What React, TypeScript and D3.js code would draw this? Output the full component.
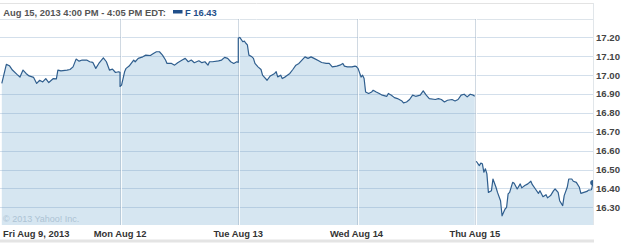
import React from "react";
import * as d3 from "d3";

const headerText = "Aug 15, 2013 4:00 PM - 4:05 PM EDT:";
const legendText = "F 16.43";
const copyright = "\u00A9 2013 Yahoo! Inc.";
const dayLabels = ["Fri Aug 9, 2013", "Mon Aug 12", "Tue Aug 13", "Wed Aug 14", "Thu Aug 15"];
const yTicks = [17.2, 17.1, 17.0, 16.9, 16.8, 16.7, 16.6, 16.5, 16.4, 16.3];
const minutesPerDay = 390;

// [minutes since 9:30 open, price]
const fri: [number, number][] = [
  [0, 16.956], [15, 17.057], [25, 17.05], [35, 17.027], [50, 17.004], [60, 16.99], [70, 17.027],
  [80, 17.009], [90, 16.996], [105, 16.988], [115, 16.956], [125, 16.973], [135, 16.964],
  [145, 16.982], [155, 16.961], [170, 16.982], [180, 16.98], [185, 17.027], [195, 17.023],
  [215, 17.027], [225, 17.03], [235, 17.044], [245, 17.085], [255, 17.074], [265, 17.08],
  [280, 17.08], [290, 17.071], [300, 17.068], [310, 17.036], [320, 17.062], [335, 17.092],
  [345, 17.071], [355, 17.027], [365, 17.032], [375, 17.014], [385, 17.018], [390, 17.015],
];
const mon: [number, number][] = [
  [0, 16.94], [5, 16.947], [15, 17.018], [20, 17.036], [30, 17.048], [45, 17.08], [50, 17.071],
  [60, 17.089], [75, 17.097], [85, 17.106], [100, 17.104], [110, 17.115], [120, 17.124],
  [130, 17.124], [140, 17.106], [150, 17.08], [155, 17.062], [170, 17.062], [180, 17.053],
  [190, 17.066], [205, 17.08], [215, 17.089], [225, 17.071], [235, 17.08], [245, 17.066],
  [260, 17.076], [270, 17.066], [280, 17.071], [290, 17.053], [295, 17.071], [305, 17.071],
  [325, 17.076], [335, 17.08], [345, 17.094], [355, 17.089], [365, 17.071], [375, 17.062],
  [385, 17.071], [390, 17.068],
];
const tue: [number, number][] = [
  [0, 17.195], [5, 17.2], [15, 17.177], [20, 17.18], [25, 17.169], [30, 17.16], [35, 17.106],
  [45, 17.097], [50, 17.089], [55, 17.062], [65, 17.044], [75, 17.03], [80, 17.0], [85, 16.991],
  [95, 16.973], [105, 16.995], [110, 17.0], [120, 17.009], [125, 17.018], [130, 16.991],
  [140, 17.0], [145, 16.982], [155, 16.991], [170, 17.009], [180, 17.03], [190, 17.053],
  [200, 17.062], [210, 17.08], [220, 17.097], [230, 17.089], [240, 17.097], [250, 17.089],
  [265, 17.076], [275, 17.067], [290, 17.062], [300, 17.062], [310, 17.044], [325, 17.048],
  [335, 17.053], [345, 17.062], [350, 17.048], [360, 17.044], [375, 17.044], [385, 17.048],
  [390, 17.045],
];
const wed: [number, number][] = [
  [0, 17.044], [5, 17.036], [15, 16.99], [20, 17.0], [25, 16.982], [30, 16.911], [40, 16.903],
  [50, 16.911], [55, 16.92], [65, 16.911], [75, 16.903], [85, 16.894], [100, 16.888],
  [105, 16.903], [115, 16.894], [125, 16.881], [135, 16.876], [150, 16.863], [155, 16.853],
  [165, 16.858], [175, 16.871], [185, 16.894], [195, 16.888], [210, 16.894], [220, 16.917],
  [230, 16.894], [240, 16.876], [260, 16.871], [270, 16.876], [280, 16.871], [290, 16.858],
  [300, 16.867], [315, 16.871], [325, 16.863], [335, 16.871], [345, 16.894], [355, 16.899],
  [365, 16.885], [375, 16.899], [385, 16.894], [390, 16.888],
];
const thu: [number, number][] = [
  [5, 16.544], [15, 16.521], [20, 16.534], [25, 16.531], [30, 16.486], [35, 16.504], [40, 16.477],
  [45, 16.379], [55, 16.388], [60, 16.45], [70, 16.406], [75, 16.379], [85, 16.335], [90, 16.255],
  [100, 16.291], [105, 16.3], [110, 16.371], [115, 16.379], [125, 16.432], [130, 16.427],
  [140, 16.397], [150, 16.424], [155, 16.403], [165, 16.415], [175, 16.424], [185, 16.438],
  [190, 16.42], [200, 16.397], [210, 16.374], [215, 16.388], [225, 16.356], [235, 16.367],
  [240, 16.35], [250, 16.362], [260, 16.388], [265, 16.397], [275, 16.379], [280, 16.335],
  [290, 16.309], [295, 16.362], [305, 16.406], [310, 16.45], [320, 16.45], [325, 16.438],
  [335, 16.432], [345, 16.406], [350, 16.374], [360, 16.379], [370, 16.384], [375, 16.391],
  [385, 16.393], [390, 16.43],
];
const days = [fri, mon, tue, wed, thu];

const W = 625;
const H = 243;
const plotLeft = 1.8;
const plotRight = 593;
const plotTop = 19;
const plotBottom = 225;

const FONT = "'Liberation Sans', Arial, sans-serif";
const LINE = "#2f5e8e";
const FILL = "#d6e6f1";

export default function App() {
  const x = d3.scaleLinear().domain([0, minutesPerDay * days.length]).range([plotLeft, plotRight]);
  const y = d3.scaleLinear().domain([16.3, 17.2]).range([207.3, 37.4]);

  type P = { t: number; v: number };
  const toPts = (d: [number, number][], i: number): P[] => d.map(([m, v]) => ({ t: i * minutesPerDay + m, v }));
  // Days Fri–Wed are one continuous trace; Thu starts after a gap
  const seg1: P[] = ([] as P[]).concat(...days.slice(0, 4).map((d, i) => toPts(d, i)));
  const seg2: P[] = toPts(thu, 4);
  const segments = [seg1, seg2];

  const line = d3.line<P>().x((p) => x(p.t)).y((p) => y(p.v));
  const area = d3.area<P>().x((p) => x(p.t)).y0(plotBottom).y1((p) => y(p.v));

  const last = seg2[seg2.length - 1];
  const dayStarts = days.map((_, i) => x(i * minutesPerDay));

  return (
    <svg width={W} height={H} style={{ position: "absolute", left: 0, top: 0, background: "#fff" }}>
      <defs>
        <clipPath id="plotclip">
          <rect x={0} y={plotTop} width={plotRight} height={plotBottom - plotTop} />
        </clipPath>
      </defs>
      {/* header box */}
      <line x1={0} x2={plotRight} y1={3.5} y2={3.5} stroke="#e3e3e3" />
      <line x1={plotRight + 0.5} x2={plotRight + 0.5} y1={3} y2={plotBottom} stroke="#e1e6ea" />
      <line x1={0} x2={plotRight} y1={plotTop + 0.5} y2={plotTop + 0.5} stroke="#dde4ea" />
      <text x={3.3} y={15.5} fontFamily={FONT} fontWeight="bold" fontSize={9.4} fill="#555">
        {headerText}
      </text>
      <rect x={173} y={10} width={9.5} height={3.5} fill="#1f4f8a" />
      <text x={185} y={15.5} fontFamily={FONT} fontWeight="bold" fontSize={9.4} fill="#1f4f8a">
        {legendText}
      </text>

      <g clipPath="url(#plotclip)">
        {segments.map((s, i) => (
          <path key={"a" + i} d={area(s) || ""} fill={FILL} stroke="none" />
        ))}
        {yTicks.map((t) => (
          <line key={t} x1={0} x2={plotRight} y1={Math.round(y(t)) + 0.5} y2={Math.round(y(t)) + 0.5}
            stroke="rgba(110,150,190,0.3)" />
        ))}
        {dayStarts.slice(1).map((sx, i) => (
          <g key={i}>
            <line x1={Math.round(sx) + 0.5} x2={Math.round(sx) + 0.5} y1={plotTop} y2={plotBottom}
              stroke="rgba(150,170,190,0.45)" />
            <line x1={Math.round(sx) + 1.5} x2={Math.round(sx) + 1.5} y1={plotTop} y2={plotBottom}
              stroke="rgba(255,255,255,0.85)" />
          </g>
        ))}
        {segments.map((s, i) => (
          <path key={"l" + i} d={line(s) || ""} fill="none" stroke={LINE} strokeWidth={1.2} strokeLinejoin="round" />
        ))}
        <circle cx={x(last.t)} cy={y(last.v)} r={2.8} fill={LINE} />
        <text x={3} y={222} fontFamily={FONT} fontSize={9} fill="#adc3d4">
          {copyright}
        </text>
      </g>

      {yTicks.map((t) => (
        <text key={t} x={596} y={y(t)} dy="0.35em" fontFamily={FONT} fontWeight="bold" fontSize={9.6} fill="#444">
          {t.toFixed(2)}
        </text>
      ))}

      {dayLabels.map((lab, i) => (
        <text key={lab} x={i === 0 ? 3 : dayStarts[i]} y={237} textAnchor={i === 0 ? "start" : "middle"}
          fontFamily={FONT} fontWeight="bold" fontSize={9.4} fill="#333">
          {lab}
        </text>
      ))}

      <rect x={0} y={239.5} width={plotRight + 1} height={3} fill="#e4e4e4" />
    </svg>
  );
}
